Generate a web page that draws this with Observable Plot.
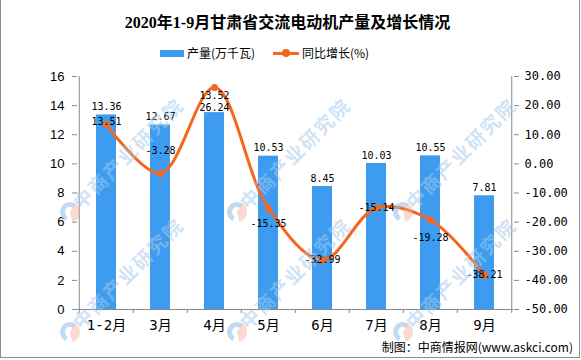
<!DOCTYPE html>
<html>
<head>
<meta charset="utf-8">
<script src="https://cdn.jsdelivr.net/npm/d3@7"></script>
<script src="https://cdn.jsdelivr.net/npm/@observablehq/plot@0.6"></script>
<style>
  html, body { margin: 0; padding: 0; background: #fff; }
  #wrap { position: relative; width: 581px; height: 360px; overflow: hidden; background: #fff; }
  #chart svg { display: block; }
  .ov { position: absolute; white-space: nowrap; }
  #title { top: 13px; left: -3px; width: 581px; text-align: center; font: bold 16px/20px "Liberation Serif", "Noto Sans CJK SC", serif; color: #000; }
  .leg { top: 45px; font: 12px/16px "Noto Sans CJK SC", sans-serif; color: #000; }
  #caption { top: 339px; right: 8px; font: 12px/16px "Noto Sans CJK SC", sans-serif; color: #000; }
  #border { position: absolute; left: 0; top: 0; width: 578px; height: 357px; border: 1px solid #8c8c8c; border-top: none; pointer-events: none; }
  #wm { position: absolute; left: 0; top: 0; pointer-events: none; }
</style>
</head>
<body>
<div id="wrap">
  <div id="chart"></div>
  <div id="title" class="ov">2020年1-9月甘肃省交流电动机产量及增长情况</div>
  <div class="ov" style="left:160px;top:50px;width:24px;height:7px;background:#3E9CF0;"></div>
  <div class="ov leg" style="left:187px;">产量(万千瓦)</div>
  <div class="ov" style="left:273px;top:52px;width:26px;height:3px;background:#F5661F;"></div>
  <div class="ov" style="left:282px;top:49px;width:8px;height:8px;border-radius:50%;background:#F5661F;"></div>
  <div class="ov leg" style="left:302px;">同比增长(%)</div>
  <div id="caption" class="ov">制图：中商情报网(www.askci.com)</div>
  <div id="border"></div>
</div>
<script>
// ---- data ----
const categories = ["1-2月", "3月", "4月", "5月", "6月", "7月", "8月", "9月"];
const output = [13.36, 12.67, 13.52, 10.53, 8.45, 10.03, 10.55, 7.81];     // 产量(万千瓦)
const growth = [13.51, -3.28, 26.24, -15.35, -32.99, -15.14, -19.28, -38.21]; // 同比增长(%)
const leftTicks = [0, 2, 4, 6, 8, 10, 12, 14, 16];
const rightTicks = [-50, -40, -30, -20, -10, 0, 10, 20, 30];

// label offsets (style)
const barLabelDy = [-8, -8, -17, -8, -8, -8, -8, -8];
const lineLabelDy = [-3, -23, 20, 15, 0, 0, 18, 0];

const rows = categories.map((c, i) => ({cat: c, output: output[i], growth: growth[i], i}));

// map right-axis values onto left-axis domain
const lMin = 0, lMax = 16, rMin = -50, rMax = 30;
const toLeft = v => lMin + (v - rMin) / (rMax - rMin) * (lMax - lMin);

const W = 581, H = 360, mL = 77, mR = 68, mT = 76, mB = 51;
const step = (W - mL - mR) / categories.length;

const BLUE = "#3E9CF0", ORANGE = "#F5661F", AX = "#898989";
const mono = "'DejaVu Sans Mono', 'Liberation Mono', monospace";

const chart = Plot.plot({
  width: W, height: H,
  marginLeft: mL, marginRight: mR, marginTop: mT, marginBottom: mB,
  style: {background: "transparent", color: "#000"},
  x: {domain: categories, paddingInner: 0.63, paddingOuter: 0.315, label: null},
  y: {domain: [lMin, lMax], label: null},
  marks: [
    Plot.barY(rows, {x: "cat", y: "output", fill: BLUE}),
    // axis lines
    Plot.ruleY([0], {stroke: AX, strokeWidth: 1}),
    Plot.ruleX([categories[0]], {dx: -step / 2, y1: lMin, y2: lMax, stroke: AX}),
    Plot.ruleX([categories[categories.length - 1]], {dx: step / 2, y1: lMin, y2: lMax, stroke: AX}),
    // x axis: boundary ticks + labels
    Plot.axisX({tickSize: 4, tickFormat: () => "", dx: -step / 2, stroke: AX, label: null}),
    Plot.axisX([categories[categories.length - 1]], {tickSize: 4, tickFormat: () => "", dx: step / 2, stroke: AX, label: null}),
    Plot.axisX({tickSize: 0, tickPadding: 11, fontSize: 14, fontFamily: mono + ", 'Noto Sans CJK SC'", color: "#000", label: null}),
    // left axis
    Plot.axisY({anchor: "left", ticks: leftTicks, tickSize: 5, tickPadding: 8, fontSize: 13,
      fontFamily: "'Liberation Sans', Arial, sans-serif", stroke: AX, color: "#000", label: null}),
    // right axis
    Plot.axisY({anchor: "right", ticks: rightTicks.map(toLeft), tickSize: 5, tickPadding: 6, fontSize: 12,
      fontFamily: mono, stroke: AX, label: null,
      tickFormat: d => { const v = Math.round(rMin + (d - lMin) / (lMax - lMin) * (rMax - rMin)); return (v === 0 ? 0 : v).toFixed(2); }}),
    // line
    Plot.line(rows, {x: "cat", y: d => toLeft(d.growth), stroke: ORANGE, strokeWidth: 3, curve: "catmull-rom"}),
    Plot.dot(rows, {x: "cat", y: d => toLeft(d.growth), r: 3.5, fill: ORANGE}),
    // bar labels
    Plot.text(rows, {x: "cat", y: "output", text: d => d.output.toFixed(2), fontSize: 10, fontFamily: mono, fill: "#000"}),
    // line labels
    Plot.text(rows, {x: "cat", y: d => toLeft(d.growth), text: d => d.growth.toFixed(2), fontSize: 10, fontFamily: mono, fill: "#000"})
  ]
});

// apply per-label dy offsets (Plot's dy is constant, so adjust the rendered texts)
document.getElementById("chart").appendChild(chart);
const textGroups = chart.querySelectorAll("g[aria-label='text']");
if (textGroups.length >= 2) {
  textGroups[0].querySelectorAll("text").forEach((t, i) => t.setAttribute("dy", barLabelDy[i]));
  textGroups[1].querySelectorAll("text").forEach((t, i) => t.setAttribute("dy", lineLabelDy[i]));
}

// watermarks (only the ones fully inside the picture)
const wmX = [70, 237, 403];
const wmY = [212, 332];
const svg = d3.select("#wrap").insert("svg", "#border").attr("id", "wm").attr("width", W).attr("height", H);
for (const y0 of wmY) for (const x0 of wmX) {
  const g = svg.append("g").attr("transform", `translate(${x0},${y0})`);
  g.append("path").attr("d", d3.arc()({innerRadius: 5, outerRadius: 10, startAngle: 3.6, endAngle: 6.9}))
    .attr("fill", "rgba(150,195,235,0.6)");
  g.append("path").attr("d", d3.arc()({innerRadius: 0, outerRadius: 10, startAngle: 0.5, endAngle: 2.9}))
    .attr("fill", "rgba(245,170,150,0.45)");
  g.append("text").attr("transform", "rotate(-45)").attr("x", 9).attr("y", 7)
    .attr("font-family", "'Noto Sans CJK SC', sans-serif").attr("font-size", 19).attr("font-weight", "bold")
    .attr("letter-spacing", 2).attr("fill", "rgba(165,203,236,0.55)").text("中商产业研究院");
}
</script>
</body>
</html>
